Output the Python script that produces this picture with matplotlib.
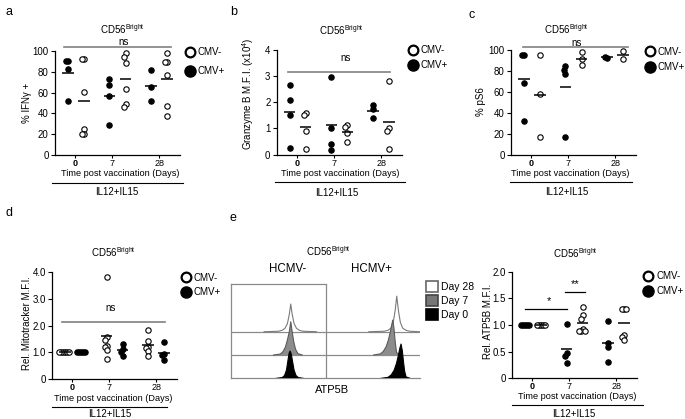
import numpy as np
import matplotlib
matplotlib.use('Agg')
import matplotlib.pyplot as plt
from matplotlib.lines import Line2D
from matplotlib.patches import Patch

plt.rcParams['font.family'] = ['Liberation Sans', 'DejaVu Sans']
plt.rcParams['mathtext.fontset'] = 'custom'
plt.rcParams['mathtext.rm'] = 'Liberation Sans'
plt.rcParams['mathtext.it'] = 'Liberation Sans:italic'
plt.rcParams['mathtext.bf'] = 'Liberation Sans:bold'

# ---- data ----
days = ['0', '7', '28']

# a: % IFNg+ (per day: CMV+ then CMV-)
ifng_pos = [[90, 90, 83, 52], [73.5, 67, 56.5, 29], [82, 65, 52]]
ifng_neg = [[92, 92, 61, 25, 20, 20], [97.7, 94.5, 88, 63, 49, 46.5],
            [97.7, 89, 89, 76.5, 47.4, 37.7]]
# b: Granzyme B MFI (x10^4)
gzmb_pos = [[2.66, 2.09, 1.53, 0.26], [2.98, 1.0, 0.39, 0.17], [1.9, 1.74, 1.41]]
gzmb_neg = [[1.58, 1.50, 0.90, 0.20], [1.13, 1.04, 0.84, 0.49], [2.83, 1.0, 0.91, 0.20]]
# c: % pS6
ps6_pos = [[95.2, 95.2, 68.3, 32.7], [84.8, 81, 77.5, 17.5], [92.7, 93.6]]
ps6_neg = [[95.2, 58.1, 16.8], [98.4, 91.1, 85.7], [99.4, 91.4]]
# d: rel. Mitotracker MFI (CMV- first here)
mito_neg = [[1.0, 1.0, 1.0, 1.0, 1.0, 1.0], [3.84, 1.59, 1.46, 1.25, 1.21, 1.09, 0.75],
            [1.84, 1.43, 1.21, 1.15, 1.05, 0.875]]
mito_pos = [[1.0, 1.0, 1.0, 1.0, 1.0], [1.3, 1.12, 1.0, 0.875], [1.4, 0.925, 0.9, 0.71]]
# f: rel. ATP5B MFI
atp_pos = [[1.0, 1.0, 1.0, 1.0, 1.0], [1.02, 0.47, 0.425, 0.29], [1.08, 0.67, 0.59, 0.31]]
atp_neg = [[1.0, 1.0, 1.0, 1.0, 1.0], [1.33, 1.19, 1.12, 0.93, 0.88, 0.88, 0.88],
           [1.3, 1.3, 1.3, 0.81, 0.775, 0.72]]

# e: ATP5B histograms (x = fluorescence, arbitrary; y = height in track units)
neg_d28_x = [35, 50, 54, 57, 59.5, 61.5, 63, 64.5, 66.5, 69, 72, 76, 90]
neg_d28_y = [0, 0.02, 0.06, 0.15, 0.35, 0.75, 1.19, 0.75, 0.35, 0.15, 0.06, 0.02, 0]
neg_d7_x = [45, 52, 55, 57.5, 59.5, 61.5, 63, 64.5, 66, 68, 70.5, 75]
neg_d7_y = [0, 0.04, 0.15, 0.35, 0.65, 1.0, 1.43, 1.0, 0.6, 0.25, 0.06, 0]
neg_d0_x = [48, 54, 56.5, 58.5, 60, 61.3, 62.3, 63.5, 65, 66.5, 68.5, 71, 76]
neg_d0_y = [0, 0.03, 0.12, 0.35, 0.75, 1.08, 1.17, 1.05, 0.7, 0.35, 0.12, 0.03, 0]
pos_d28_x = [145, 161, 165, 168, 170.5, 172.5, 174.2, 176, 178, 180.5, 184, 188, 198]
pos_d28_y = [0, 0.02, 0.06, 0.15, 0.4, 0.9, 1.53, 0.9, 0.4, 0.15, 0.06, 0.02, 0]
pos_d7_x = [150, 157, 160, 163, 165.5, 167.5, 169, 170, 171.3, 172.5, 174, 178]
pos_d7_y = [0, 0.05, 0.15, 0.35, 0.65, 1.0, 1.3, 1.5, 1.15, 0.6, 0.1, 0]
pos_d0_x = [158, 165, 168.5, 171.5, 174, 176, 177.5, 178.7, 180, 181.3, 182.5, 184, 188]
pos_d0_y = [0, 0.04, 0.15, 0.35, 0.65, 1.0, 1.3, 1.47, 1.2, 0.7, 0.3, 0.06, 0]

# ---- figure ----
W, H = 685, 419
fig = plt.figure(figsize=(W / 100, H / 100), dpi=100)
centres = [0, 2.6, 5.2]
tickpos = [0.45, 2.75, 5.7]
FS = 7


def fig_text(x, y, s, **kw):
    kw.setdefault('ha', 'center')
    kw.setdefault('va', 'center')
    fig.text(x / W, 1 - y / H, s, **kw)


def fig_line(x1, x2, y, **kw):
    fig.add_artist(Line2D([x1 / W, x2 / W], [1 - y / H, 1 - y / H], **kw))


def swarm(vals, ppu, step=0.12, thr=4.0):
    placed, xs = [], []
    for v in vals:
        for s in [0, -1, 1, -2, 2, -3, 3, -4, 4]:
            if all(not (ps == s and abs(pv - v) * ppu < thr) for ps, pv in placed):
                break
        placed.append((s, v))
        xs.append(s * step)
    return np.array(xs)


def legend_circles(ax, cx, cy, gap):
    h = [Line2D([], [], marker='o', ls='none', ms=7, mfc='white', mec='black', mew=1.6),
         Line2D([], [], marker='o', ls='none', ms=8, mfc='black', mec='black')]
    ls = (gap - 9.7) / 9.7
    ax.legend(h, ['CMV-', 'CMV+'], loc='upper left',
              bbox_to_anchor=((cx - 4.9) / W, 1 - (cy - 5) / H), bbox_transform=fig.transFigure,
              frameon=False, borderpad=0, borderaxespad=0, handlelength=1.0,
              handletextpad=0.3, labelspacing=ls, fontsize=FS)


def dot_panel(rect, series, ylim, yticks, yticklabels, ylabel, ylab_x, ylab_y):
    l, t, r, b = rect
    ax = fig.add_axes([l / W, 1 - b / H, (r - l) / W, (b - t) / H])
    ppu = (b - t) / (ylim[1] - ylim[0])
    for j, (groups, hollow) in enumerate(series):
        for i, vals in enumerate(groups):
            x0 = centres[i] + j
            ax.scatter(x0 + swarm(vals, ppu), vals, s=15,
                       facecolors='white' if hollow else 'black', edgecolors='black',
                       linewidths=0.8, zorder=2, clip_on=False)
            m = np.mean(vals)
            ax.plot([x0 - 0.36, x0 + 0.36], [m, m], color='black', lw=1.1, zorder=3,
                    solid_capstyle='butt')
    ax.set_xlim(-0.8, 7.0)
    ax.set_ylim(*ylim)
    ax.set_yticks(yticks)
    ax.set_yticklabels(yticklabels, fontsize=FS)
    ax.set_xticks(tickpos)
    ax.set_xticklabels(days, fontsize=6.5)
    ax.get_xticklabels()[0].set_fontweight('bold')
    ax.tick_params(axis='y', length=3, width=0.8, pad=1.5)
    ax.tick_params(axis='x', length=2.5, width=0.8, pad=0.5)
    for s in ['top', 'right']:
        ax.spines[s].set_visible(False)
    for s in ['left', 'bottom']:
        ax.spines[s].set_linewidth(0.9)
    ax.set_ylabel(ylabel, fontsize=FS)
    ax.yaxis.set_label_coords(ylab_x, ylab_y)
    return ax


def under_axis(xc, x1, x2, y_lab, y_line, y_il):
    fig_text(xc, y_lab, 'Time post vaccination (Days)', fontsize=6.6)
    fig_line(x1, x2, y_line, color='black', lw=0.8)
    fig_text(xc - 3, y_il, 'IL12+IL15', fontsize=FS)


title = 'CD56$^{\\mathrm{Bright}}$'
gray = '#808080'

# a
ax = dot_panel((55, 51, 180, 155), [(ifng_pos, False), (ifng_neg, True)], (0, 100),
               [0, 20, 40, 60, 80, 100], ['0', '20', '40', '60', '80', '100'],
               '% IFNγ +', -0.185, 0.5)
ax.plot([-0.25, 6.44], [104.1, 104.1], color=gray, lw=1.2, clip_on=False)
ax.text(3.47, 108.5, 'ns', ha='center', va='center', fontsize=FS)
legend_circles(ax, 190, 52, 19)
fig_text(122, 29, title, fontsize=FS)
under_axis(120, 52, 183, 174, 183, 192)

# b
ax = dot_panel((276.7, 50, 402, 154.5), [(gzmb_pos, False), (gzmb_neg, True)], (0, 4),
               [0, 1, 2, 3, 4], ['0', '1', '2', '3', '4'],
               'Granzyme B M.F.I. (x10$^{4}$)', -0.165, 0.58)
ax.plot([-0.11, 6.28], [3.17, 3.17], color=gray, lw=1.2, clip_on=False)
ax.text(3.47, 3.7, 'ns', ha='center', va='center', fontsize=FS)
legend_circles(ax, 412.7, 50, 15)
fig_text(341.7, 30, title, fontsize=FS)
under_axis(340, 275, 405, 173.5, 181.7, 192.7)

# c
ax = dot_panel((511, 50, 636, 155), [(ps6_pos, False), (ps6_neg, True)], (0, 100),
               [0, 20, 40, 60, 80, 100], ['0', '20', '40', '60', '80', '100'],
               '% pS6', -0.2, 0.51)
ax.plot([-0.07, 6.53], [103.1, 103.1], color=gray, lw=1.2, clip_on=False)
ax.text(3.3, 107, 'ns', ha='center', va='center', fontsize=FS)
legend_circles(ax, 650, 51.7, 15)
fig_text(566.7, 29.3, title, fontsize=FS)
under_axis(570, 510, 632, 174, 182.5, 192.3)

# d
ax = dot_panel((52.3, 272.3, 177, 379), [(mito_neg, True), (mito_pos, False)], (0, 4),
               [0, 1, 2, 3, 4], ['0', '1.0', '2.0', '3.0', '4.0'],
               'Rel. Mitotracker M.F.I.', -0.16, 0.52)
ax.plot([-0.21, 6.24], [2.15, 2.15], color=gray, lw=1.2, clip_on=False)
ax.text(2.87, 2.65, 'ns', ha='center', va='center', fontsize=FS)
legend_circles(ax, 186, 277.7, 14)
fig_text(113, 251.7, title, fontsize=FS)
under_axis(113, 51.7, 166.7, 398.5, 406.5, 413.8)

# f
ax = dot_panel((512.3, 271.7, 637, 378.3), [(atp_pos, False), (atp_neg, True)], (0, 2),
               [0, 0.5, 1.0, 1.5, 2.0], ['0', '0.5', '1.0', '1.5', '2.0'],
               'Rel. ATP5B M.F.I.', -0.155, 0.53)
ax.plot([-0.01, 2.6], [1.3, 1.3], color='black', lw=0.9, clip_on=False)
ax.text(1.49, 1.45, '*', ha='center', va='center', fontsize=8)
ax.plot([2.49, 3.74], [1.62, 1.62], color='black', lw=0.9, clip_on=False)
ax.text(3.12, 1.76, '**', ha='center', va='center', fontsize=8)
legend_circles(ax, 648.3, 276, 14.7)
fig_text(575, 253.3, title, fontsize=FS)
under_axis(577, 511.7, 642.7, 396.2, 405, 413.5)

# e: histograms
l, t, r, b = 230.7, 284, 420, 378.3
ax = fig.add_axes([l / W, 1 - b / H, (r - l) / W, (b - t) / H])
ytop = 4.05
ax.set_xlim(0, 198.6)
ax.set_ylim(0, ytop)
edge = '#8a8a8a'
ax.axhline(1, color=edge, lw=0.9, zorder=0)
ax.axhline(2, color=edge, lw=0.9, zorder=0)
ax.plot([0, 100], [ytop, ytop], color=edge, lw=0.9, clip_on=False)
ax.plot([100, 100], [0, ytop], color=edge, lw=0.9)
for s in ['top', 'right']:
    ax.spines[s].set_visible(False)
for s in ['left', 'bottom']:
    ax.spines[s].set_color(edge)
    ax.spines[s].set_linewidth(0.9)
ax.set_xticks([])
ax.set_yticks([])
tracks = [
    (neg_d28_x, neg_d28_y, 2, 'white', '#7a7a7a'),
    (pos_d28_x, pos_d28_y, 2, 'white', '#7a7a7a'),
    (neg_d7_x, neg_d7_y, 1, '#8c8c8c', '#5a5a5a'),
    (pos_d7_x, pos_d7_y, 1, '#8c8c8c', '#5a5a5a'),
    (neg_d0_x, neg_d0_y, 0, 'black', 'black'),
    (pos_d0_x, pos_d0_y, 0, 'black', 'black'),
]
for z, (xs, ys, base, fc, ec) in enumerate(tracks):
    ys = np.array(ys) + base
    ax.fill_between(xs, base, ys, facecolor=fc, edgecolor='none', zorder=2 + z)
    ax.plot(xs, ys, color=ec, lw=0.8, zorder=2 + z)
h = [Patch(facecolor='white', edgecolor='#666666', lw=1.2),
     Patch(facecolor='#777777', edgecolor='#444444', lw=1.2),
     Patch(facecolor='black', edgecolor='black', lw=1.2)]
ax.legend(h, ['Day 28', 'Day 7', 'Day 0'], loc='upper left',
          bbox_to_anchor=(425.8 / W, 1 - 281 / H), bbox_transform=fig.transFigure,
          frameon=False, borderpad=0, borderaxespad=0, handlelength=1.2, handleheight=1.2,
          handletextpad=0.3, labelspacing=0.32, fontsize=7.5)
fig_text(328.3, 250.7, title, fontsize=FS)
fig_text(287.3, 269.3, 'HCMV-', fontsize=8.3)
fig_text(371.7, 269.3, 'HCMV+', fontsize=8.3)
fig_text(331.7, 390, 'ATP5B', fontsize=8)

# panel letters
for x, y, s in [(5, 11.7, 'a'), (230, 11.7, 'b'), (468.3, 15, 'c'), (5, 213, 'd'), (230, 218.3, 'e')]:
    fig_text(x, y, s, fontsize=9, ha='left')

fig.savefig('out.png', dpi=100)
